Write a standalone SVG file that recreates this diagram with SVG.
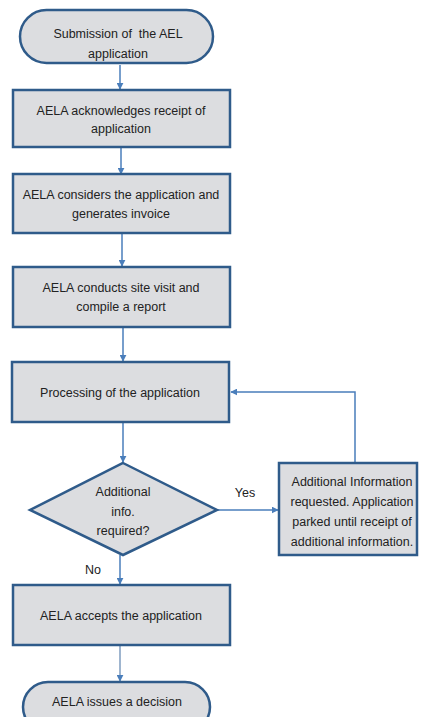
<svg xmlns="http://www.w3.org/2000/svg" width="421" height="717" viewBox="0 0 421 717">
<defs>
<style>
.n{fill:#dcdde0;stroke:#2f5b8a;stroke-width:2.5}
.c{fill:none;stroke:#4a7ebb;stroke-width:1.5}
text{font-family:"Liberation Sans",Arial,sans-serif;font-size:12.5px;fill:#222;text-anchor:middle;white-space:pre}
</style>
<marker id="ah" viewBox="0 0 10 10" refX="9" refY="5" markerWidth="7" markerHeight="7" markerUnits="userSpaceOnUse" orient="auto">
<path d="M0,0 L10,5 L0,10 z" fill="#4a7ebb"/>
</marker>
</defs>
<rect width="421" height="717" fill="#fff"/>
<g id="connectors">
<line class="c" x1="120" y1="65" x2="120" y2="89" marker-end="url(#ah)"/>
<line class="c" x1="121" y1="148" x2="121" y2="174" marker-end="url(#ah)"/>
<line class="c" x1="122" y1="234" x2="122" y2="266" marker-end="url(#ah)"/>
<line class="c" x1="123" y1="328" x2="123" y2="361" marker-end="url(#ah)"/>
<line class="c" x1="123" y1="423" x2="123" y2="462" marker-end="url(#ah)"/>
<line class="c" x1="218" y1="510" x2="278" y2="510" marker-end="url(#ah)"/>
<polyline class="c" points="355,463 355,392 231,392" marker-end="url(#ah)"/>
<line class="c" x1="120" y1="555" x2="120" y2="584" marker-end="url(#ah)"/>
<line class="c" x1="120" y1="646" x2="120" y2="681" style="stroke:#7f9cbf" marker-end="url(#ah)"/>
<text x="245" y="497">Yes</text>
<text x="93" y="574">No</text>
</g>
<g id="start">
<rect class="n" x="20" y="10" width="193" height="53" rx="26.5"/>
<text x="118" y="38" xml:space="preserve">Submission of  the AEL</text>
<text x="118" y="58">application</text>
</g>
<g id="acknowledge">
<rect class="n" x="13" y="90" width="217" height="57"/>
<text x="121" y="115">AELA acknowledges receipt of</text>
<text x="121" y="133">application</text>
</g>
<g id="considers">
<rect class="n" x="13" y="174" width="217" height="59"/>
<text x="121" y="199">AELA considers the application and</text>
<text x="121" y="218">generates invoice</text>
</g>
<g id="sitevisit">
<rect class="n" x="13" y="267" width="217" height="60"/>
<text x="121" y="292">AELA conducts site visit and</text>
<text x="121" y="311">compile a report</text>
</g>
<g id="processing">
<rect class="n" x="12" y="362" width="217" height="60"/>
<text x="120" y="397">Processing of the application</text>
</g>
<g id="decision">
<polygon class="n" points="123,463 217,510 123,555 30,510"/>
<text x="123" y="496">Additional</text>
<text x="123" y="516">info.</text>
<text x="123" y="535">required?</text>
</g>
<g id="additional">
<rect class="n" x="279" y="463" width="138" height="92"/>
<text x="352" y="486">Additional Information</text>
<text x="352" y="506">requested. Application</text>
<text x="352" y="526">parked until receipt of</text>
<text x="352" y="546">additional information.</text>
</g>
<g id="accepts">
<rect class="n" x="13" y="585" width="217" height="60"/>
<text x="121" y="620">AELA accepts the application</text>
</g>
<g id="end">
<rect class="n" x="23" y="682" width="187" height="50" rx="25"/>
<text x="117" y="706">AELA issues a decision</text>
</g>
</svg>
